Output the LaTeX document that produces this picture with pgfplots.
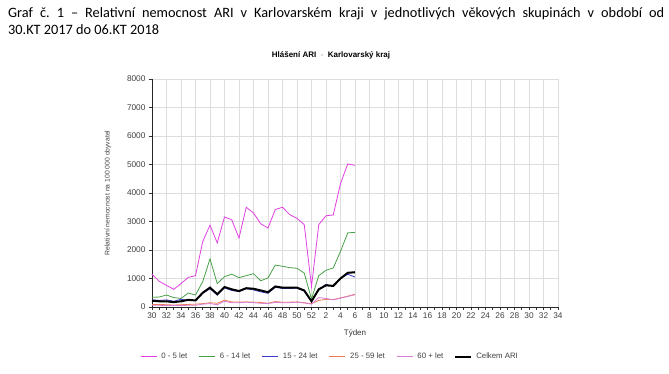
\documentclass[border=0pt]{standalone}
\usepackage{fontspec}
\setmainfont{Liberation Sans}
\newfontfamily\calibri{Carlito}
\usepackage{pgfplots}
\pgfplotsset{compat=1.18}
\definecolor{c05}{HTML}{E23FE2}
\definecolor{c614}{HTML}{47A047}
\definecolor{c1524}{HTML}{3A3AC8}
\definecolor{c2559}{HTML}{EE7A52}
\definecolor{c60}{HTML}{D67DD6}
\definecolor{gridc}{HTML}{DDDDDD}
\frenchspacing
\begin{document}
\begin{tikzpicture}[x=1pt,y=1pt]
\path[use as bounding box] (0,0) rectangle (669,374);
\node[anchor=base west,inner sep=0pt] at (8,356) {\calibri\fontsize{14.3}{16}\selectfont\hbox to 656pt{Graf č. 1 – Relativní nemocnost ARI v Karlovarském kraji v jednotlivých věkových skupinách v období od}};
\node[anchor=base west,inner sep=0pt] at (8,339) {\calibri\fontsize{14.3}{16}\selectfont 30.KT 2017 do 06.KT 2018};
\node[inner sep=0pt] at (331,319) {\fontsize{8}{9}\selectfont\bfseries Hlášení ARI \ \textcolor{gray!60}{-} \ Karlovarský kraj};
\begin{axis}[
  at={(152pt,67pt)}, anchor=origin,
  scale only axis, width=406pt, height=228pt,
  xmin=0, xmax=56, ymin=0, ymax=8000,
  axis x line=bottom, axis y line=left,
  axis line style={-, black!85, line width=0.9pt},
  xtick={0,2,...,56},
  minor xtick={1,3,...,55},
  xticklabels={30,32,34,36,38,40,42,44,46,48,50,52,2,4,6,8,10,12,14,16,18,20,22,24,26,28,30,32,34},
  ytick={0,1000,...,8000},
  scaled y ticks=false,
  /pgf/number format/assume math mode=true,
  /pgf/number format/set thousands separator={},
  xmajorgrids, ymajorgrids,
  major grid style={gridc, line width=0.6pt},
  tick align=outside,
  major tick length=3pt, minor tick length=3pt,
  tick style={black!80, line width=0.6pt},
  ticklabel style={font=\fontsize{8.3}{9}\selectfont, text=black!75},
  xticklabel style={yshift=1pt},
  xlabel={Týden},
  xlabel style={font=\fontsize{8}{9}\selectfont, text=black!80, yshift=-4pt},
  ylabel={Relativní nemocnost na 100 000 obyvatel},
  ylabel style={font=\fontsize{6.8}{7}\selectfont, text=black!75, yshift=9pt},
  legend columns=6,
  legend style={at={(0.438,-0.218)}, anchor=center, draw=none, fill=none,
    font=\fontsize{7.8}{8}\selectfont, text=black!75,
    /tikz/every even column/.append style={column sep=9pt},
    /tikz/every odd column/.append style={column sep=2pt}},
  legend image code/.code={\draw[#1] (0pt,0pt) -- (16pt,0pt);},
  clip=false
]
\addplot[c05, line width=0.8pt, legend image post style={line width=1.6pt}] coordinates {(0,1150)(1,900)(2,760)(3,620)(4,820)(5,1040)(6,1100)(7,2300)(8,2870)(9,2250)(10,3160)(11,3060)(12,2420)(13,3500)(14,3300)(15,2920)(16,2770)(17,3420)(18,3500)(19,3240)(20,3110)(21,2890)(22,720)(23,2890)(24,3200)(25,3230)(26,4330)(27,5020)(28,4970)};
\addlegendentry{0 - 5 let}
\addplot[c614, line width=0.8pt, legend image post style={line width=1.6pt}] coordinates {(0,340)(1,350)(2,420)(3,330)(4,300)(5,490)(6,420)(7,890)(8,1690)(9,820)(10,1065)(11,1150)(12,1030)(13,1100)(14,1170)(15,920)(16,1020)(17,1470)(18,1430)(19,1380)(20,1360)(21,1190)(22,280)(23,1100)(24,1290)(25,1370)(26,1950)(27,2600)(28,2620)};
\addlegendentry{6 - 14 let}
\addplot[c1524, line width=0.8pt, legend image post style={line width=1.6pt}] coordinates {(0,250)(1,230)(2,250)(3,200)(4,270)(5,230)(6,230)(7,480)(8,640)(9,420)(10,670)(11,580)(12,540)(13,640)(14,600)(15,530)(16,480)(17,690)(18,650)(19,650)(20,660)(21,560)(22,200)(23,600)(24,800)(25,720)(26,1000)(27,1150)(28,1050)};
\addlegendentry{15 - 24 let}
\addplot[c2559, line width=0.8pt, legend image post style={line width=1.6pt}] coordinates {(0,90)(1,90)(2,80)(3,70)(4,80)(5,90)(6,100)(7,120)(8,150)(9,130)(10,240)(11,180)(12,170)(13,180)(14,170)(15,160)(16,130)(17,190)(18,170)(19,170)(20,180)(21,150)(22,120)(23,230)(24,270)(25,260)(26,320)(27,380)(28,450)};
\addlegendentry{25 - 59 let}
\addplot[c60, line width=0.8pt, legend image post style={line width=1.6pt}] coordinates {(0,60)(1,60)(2,50)(3,50)(4,50)(5,60)(6,60)(7,100)(8,120)(9,80)(10,200)(11,150)(12,150)(13,170)(14,150)(15,130)(16,120)(17,160)(18,150)(19,150)(20,170)(21,140)(22,100)(23,330)(24,300)(25,250)(26,310)(27,370)(28,430)};
\addlegendentry{60 + let}
\addplot[black, line width=2pt] coordinates {(0,220)(1,200)(2,200)(3,170)(4,200)(5,250)(6,230)(7,500)(8,680)(9,450)(10,700)(11,620)(12,560)(13,660)(14,640)(15,580)(16,520)(17,720)(18,680)(19,680)(20,680)(21,580)(22,200)(23,620)(24,760)(25,740)(26,1000)(27,1200)(28,1220)};
\addlegendentry{Celkem ARI}
\end{axis}
\end{tikzpicture}
\end{document}
